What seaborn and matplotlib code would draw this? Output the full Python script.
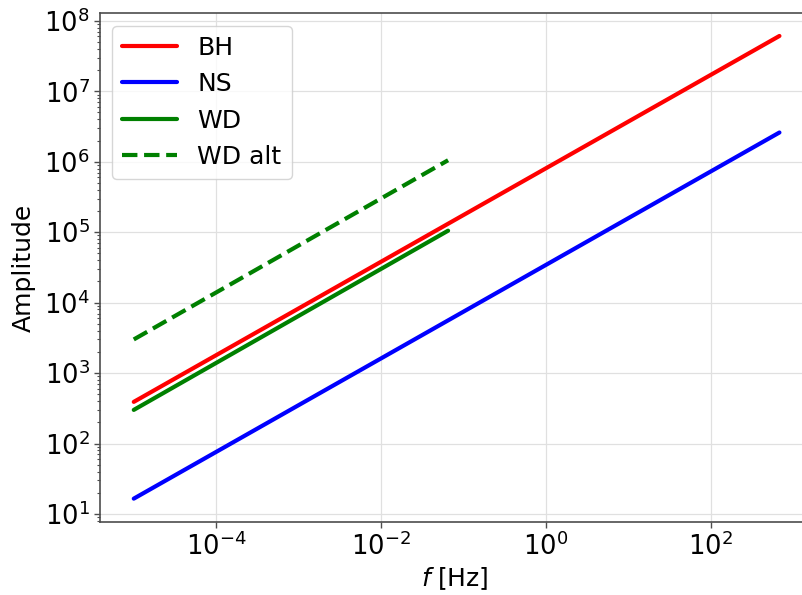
import numpy as np
import pandas as pd
import matplotlib
matplotlib.use("Agg")
import matplotlib.pyplot as plt
import matplotlib.ticker as mticker
import seaborn as sns

# Endpoints of each power-law track (frequency in Hz, amplitude)
bh_f = [1e-5, 680.0]
bh_amp = [390.0, 6.1e7]
ns_f = [1e-5, 680.0]
ns_amp = [16.5, 2.6e6]
wd_f = [1e-5, 0.065]
wd_amp = [300.0, 1.05e5]
wd_alt_f = [1e-5, 0.065]
wd_alt_amp = [3000.0, 1.05e6]

series = [
    ("BH", bh_f, bh_amp, "red", "-"),
    ("NS", ns_f, ns_amp, "blue", "-"),
    ("WD", wd_f, wd_amp, "green", "-"),
    ("WD alt", wd_alt_f, wd_alt_amp, "green", "--"),
]

sns.set_style("whitegrid", {
    "axes.edgecolor": "0.3",
    "grid.color": "0.88",
    "xtick.bottom": True,
    "ytick.left": True,
    "text.color": "black",
    "axes.labelcolor": "black",
    "xtick.color": "black",
    "ytick.color": "black",
})
plt.rcParams["font.family"] = ["DejaVu Sans"]
plt.rcParams["font.size"] = 18

fig = plt.figure(figsize=(8.03, 5.95), dpi=100)
# the frame runs past the right edge of the canvas
ax = fig.add_axes([0.1245, 0.1227, 0.90, 0.8553])

for name, f, amp, color, ls in series:
    df = pd.DataFrame({"f": f, "amp": amp})
    sns.lineplot(data=df, x="f", y="amp", ax=ax, color=color, lw=3,
                 linestyle=ls, label=name, sort=False)

ax.set_xscale("log")
ax.set_yscale("log")
ax.set_xlim(10 ** -5.41, 10 ** 3.357)
ax.set_ylim(10 ** 0.886, 10 ** 8.11)
ax.xaxis.set_major_locator(mticker.LogLocator(base=100.0))
ax.xaxis.set_minor_locator(mticker.NullLocator())

ax.tick_params(axis="both", which="major", labelsize=18.5, length=4, width=1,
               color="0.3", labelcolor="black")
ax.tick_params(axis="y", which="minor", length=2.5, width=0.8, color="0.3")
for s in ax.spines.values():
    s.set_linewidth(1.2)

ax.grid(True, which="major", color="0.88", lw=0.9)
ax.set_xlabel("$f$ [Hz]", fontsize=18, color="black")
ax.xaxis.set_label_coords(0.491, -0.085)
ax.set_ylabel("Amplitude", fontsize=18, color="black", labelpad=6)
ax.legend(loc="upper left", fontsize=18, frameon=True, handlelength=2.2)

fig.savefig("out.png", dpi=100)
